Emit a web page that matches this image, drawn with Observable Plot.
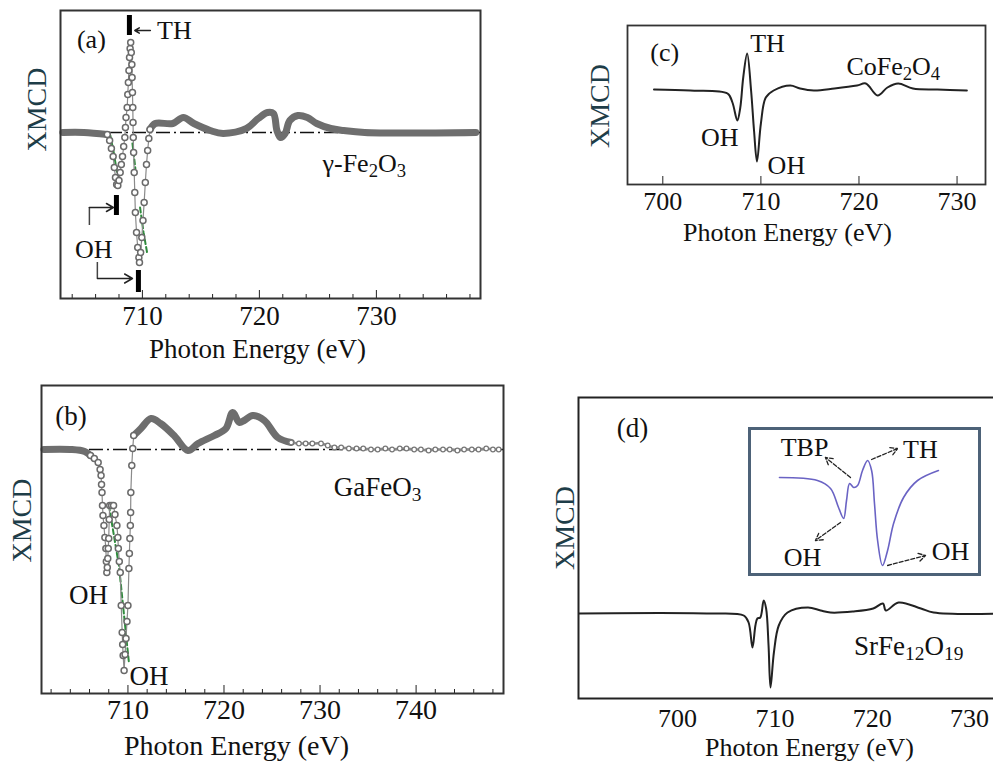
<!DOCTYPE html>
<html><head><meta charset="utf-8">
<script src="https://cdn.jsdelivr.net/npm/d3@7"></script>
<script src="https://cdn.jsdelivr.net/npm/@observablehq/plot@0.6"></script>
<style>
body{margin:0;background:#fff;}
#fig{position:relative;width:993px;height:763px;overflow:hidden;background:#fff;}
#fig svg{position:absolute;}
</style></head><body><div id="fig"></div>
<script>
// ---------- Panel (a): gamma-Fe2O3 ----------
const aEnergy = [703.2, 705.0, 707.0, 707.2, 707.35, 707.5, 707.6, 707.7, 707.8, 707.9,
  708.0, 708.1, 708.2, 708.3, 708.4, 708.5, 708.55, 708.6, 708.7, 708.75,
  708.8, 708.85, 708.9, 708.95, 709.0, 709.05, 709.1, 709.12, 709.15, 709.18,
  709.2, 709.22, 709.25, 709.3, 709.35, 709.4, 709.5, 709.6, 709.7, 709.75,
  709.85, 709.95, 710.05, 710.15, 710.25, 710.35, 710.45, 710.55, 710.65, 711.1,
  712.6, 713.5, 714.4, 715.8, 716.9, 718.9, 719.9, 720.7, 721.2, 721.5,
  721.8, 722.2, 722.6, 723.3, 724.1, 724.9, 726.1, 727.2, 729.0, 738.5];
const aXmcd = [0, 0, -2, -8, -16, -24, -35, -45, -52, -53,
  -48, -40, -32, -24, -14, -5, 5, 15, 25, 38,
  50, 62, 75, 84, 90, 80, 68, 55, 40, 25,
  10, -5, -20, -40, -60, -80, -100, -115, -125, -130,
  -120, -105, -88, -70, -50, -32, -18, -6, 3, 9,
  9, 15, 9, 2, -1, 4, 14, 20, 19, 2,
  -5, -1, 12, 17, 15, 9, 4, 2, 0, 0];
const aSteepRange = [707.0, 710.65];
const aFitEnergy = [704.0, 706.5, 707.26, 707.55, 707.8, 708.05, 709.15, 709.4, 709.8, 710.1, 710.4, 733.0, 738.5];
const aFitXmcd = [0, 0, -3, -20, -38, -50, -11, -36, -75, -100, -120, 0, 0];
const aFitSeg = [1, 1, 2, 2, 2, 2, 3, 3, 4, 4, 4, 5, 5];
const aXDomain = [703.0, 738.9];
const aYDomain = [-166, 122];
const aMajorTicks = [710, 720, 730];
const aMinorTicks = [704, 706, 708, 712, 714, 716, 718, 722, 724, 726, 728, 732, 734, 736, 738];
const aLabelText = ["(a)", "TH", "γ-Fe₂O₃", "OH"];
const aLabelE = [705.64, 712.74, 728.97, 705.85];
const aLabelV = [93, 102, -31, -117];
const aBarE = [708.89, 707.78, 709.66];
const aBarTop = [117, -63, -138];
const aBarBottom = [97, -83, -160];
const aArrowE1 = [710.68, 705.47, 706.15];
const aArrowE2 = [709.35, 707.52, 709.15];
const aArrowV = [102, -75, -146];
const aElbowE = [705.47, 706.15];
const aElbowV1 = [-93, -130];
const aElbowV2 = [-75, -146];

// ---------- Panel (b): GaFeO3 ----------
const bEnergy = [701.25, 704.0, 705.5, 706.1, 706.5, 706.9, 707.1, 707.2, 707.25, 707.3,
  707.35, 707.4, 707.5, 707.6, 707.7, 707.75, 707.8, 707.85, 707.9, 707.95,
  708.0, 708.05, 708.1, 708.3, 708.5, 708.65, 708.85, 708.95, 709.0, 709.1,
  709.2, 709.3, 709.4, 709.45, 709.5, 709.6, 709.7, 709.8, 709.9, 710.0,
  710.1, 710.15, 710.2, 710.25, 710.28, 710.3, 710.4, 710.5, 710.6, 711.35,
  712.4, 713.4, 714.8, 716.25, 717.3, 719.0, 720.2, 720.9, 721.6, 722.1,
  723.0, 724.2, 725.6, 727.0, 727.8, 728.5, 729.2, 730.1, 730.8, 731.5,
  732.2, 733.0, 733.8, 734.5, 735.3, 736.0, 736.8, 737.5, 738.3, 739.0,
  739.8, 740.5, 741.3, 742.0, 742.8, 743.5, 744.3, 745.0, 745.8, 746.5,
  747.3, 748.0, 748.6];
const bXmcd = [0, 0, -2, -6, -9, -13, -20, -26, -35, -43,
  -56, -66, -76, -88, -99, -112, -123, -118, -109, -99,
  -89, -70, -56, -56, -56, -65, -76, -88, -99, -112,
  -123, -156, -183, -195, -206, -221, -205, -189, -172, -156,
  -119, -104, -89, -76, -63, -43, -16, 1, 14, 21,
  31, 26, 14, -1, 6, 14, 21, 37, 27, 29,
  34, 29, 12, 7, 6, 6, 6, 6, 4, 2,
  2, 1, 1, 1, 0, 0, 1, 0, 1, 1,
  0, 0, -1, 0, 0, 0, -1, 0, 0, 0,
  1, 0, 0];
const bSteepRange = [706.1, 710.6];
const bBandEnd = 727.0;
const bFitEnergy = [701.5, 705.5, 706.6, 708.02, 709.06, 710.1];
const bFitXmcd = [0, -2, -10, -56, -116, -213];
const bFitSeg = [1, 1, 1, 2, 2, 2];
const bXDomain = [701.0, 749.1];
const bYDomain = [-244, 64];
const bMajorTicks = [710, 720, 730, 740];
const bMinorTicks = [702, 704, 706, 708, 712, 714, 716, 718, 722, 724, 726, 728, 732, 734, 736, 738, 742, 744, 746, 748];
const bLabelText = ["(b)", "GaFeO₃", "OH", "OH"];
const bLabelE = [704.06, 736.0, 705.89, 712.19];
const bLabelV = [33, -38, -146, -227];

// ---------- Panel (c): CoFe2O4 ----------
const cEnergy = [699.1, 702.8, 706.6, 707.1, 707.6, 707.9, 708.2, 708.6, 709.0, 709.3,
  709.6, 710.0, 710.5, 711.3, 713.0, 714.0, 715.4, 717.5, 719.8, 720.7,
  721.9, 722.9, 724.0, 725.5, 728.0, 731.0];
const cXmcd = [0, -1, -4, -13, -31, -18, 12, 36, -1, -41,
  -72, -34, -8, -1, 4, 1, -1, 1, 4, 6,
  -6, 2, 6, 1, 0, -1];
const cXDomain = [696.4, 732.9];
const cYDomain = [-95, 64];
const cMajorTicks = [700, 710, 720, 730];
const cLabelText = ["(c)", "TH", "CoFe₂O₄", "OH", "OH"];
const cLabelE = [700.2, 710.68, 723.5, 705.8, 712.6];
const cLabelV = [37, 46, 23, -48, -76];

// ---------- Panel (d): SrFe12O19 ----------
const dEnergy = [689.9, 703.0, 706.8, 707.3, 707.7, 708.0, 708.2, 708.5, 708.85, 709.1,
  709.35, 709.55, 709.9, 710.4, 711.3, 713.4, 714.7, 715.7, 718.0, 720.1,
  721.1, 721.4, 722.7, 725.0, 726.3, 734.0];
const dXmcd = [0, 0, -2, -9, -34, -12, -5, -4, 13, 5,
  -32, -74, -39, -12, 1, 6, 3, 1, 2, 5,
  10, 3, 11, 5, 1, 0];
const dXDomain = [689.83, 734.2];
const dYDomain = [-85, 216];
const dMajorTicks = [700, 710, 720, 730];
const dLabelText = ["(d)", "SrFe₁₂O₁₉"];
const dLabelE = [695.37, 723.74];
const dLabelV = [185, -33];

// inset of (d)
const insetEnergy = [704.96, 706.67, 707.26, 707.62, 707.85, 707.98, 708.12, 708.30, 708.48, 708.70,
  708.93, 709.11, 709.24, 709.38, 709.60, 709.83, 710.10, 710.55, 711.18, 712.12];
const insetXmcd = [1, -2, -10, -29, -40, -22, -5, -9, -7, 8,
  18, 8, -25, -62, -87, -72, -45, -19, -2, 8];
const insetXDomain = [703.61, 713.97];
const insetYDomain = [-96, 50];
const insetLabelText = ["TBP", "TH", "OH", "OH"];
const insetLabelE = [706.09, 711.31, 706.0, 712.66];
const insetLabelV = [31, 29, -79, -73];
const insetArrowE1 = [708.16, 709.11, 707.71, 709.83];
const insetArrowV1 = [1, 19, -44, -87];
const insetArrowE2 = [707.03, 710.28, 706.58, 711.54];
const insetArrowV2 = [21, 30, -62, -77];

// ---------- helpers ----------
const serif = "'Liberation Serif', 'Times New Roman', serif";
const green = "#2f8a3c";
const labelColor = "#1e3d48";
const fig = document.getElementById("fig");
const subMap = {"₀": "0", "₁": "1", "₂": "2", "₃": "3", "₄": "4", "₅": "5", "₆": "6", "₇": "7", "₈": "8", "₉": "9"};
function fixSubs(svg) {
  d3.select(svg).selectAll("text").each(function () {
    const t = this.textContent;
    if (!/[₀-₉]/.test(t)) return;
    const parts = t.match(/[₀-₉]+|[^₀-₉]+/g);
    const sel = d3.select(this);
    sel.text(null);
    let prevSub = false;
    parts.forEach(p => {
      const isSub = /[₀-₉]/.test(p);
      const ts = sel.append("tspan").text(isSub ? [...p].map(c => subMap[c]).join("") : p);
      if (isSub) ts.attr("font-size", "72%").attr("dy", "0.25em");
      else if (prevSub) ts.attr("dy", "-0.18em");
      prevSub = isSub;
    });
  });
}
function place(svg, left, top) { fixSubs(svg); svg.style.left = left + "px"; svg.style.top = top + "px"; fig.appendChild(svg); }
function rows(E, V, extra) { return E.map((e, i) => ({e, v: V[i], s: extra ? extra[i] : 0})); }
function idx(n) { return d3.range(n); }
function tickTop(dom, frameH, px) { return dom[0] + (dom[1] - dom[0]) * px / frameH; }
const baseStyle = {fontFamily: serif, fontSize: "26px", color: "#222", background: "transparent", overflow: "visible"};
function labels(T, E, V, size) {
  return Plot.text(idx(T.length), {x: i => E[i], y: i => V[i], text: i => T[i], fontSize: size, fontFamily: serif, fill: "#111"});
}
function title(dx, dy, size) {
  return Plot.text(["Photon Energy (eV)"], {frameAnchor: "bottom", textAnchor: "middle", lineAnchor: "middle", dx, dy, fontSize: size, fontFamily: serif, fill: "#111"});
}
function ylabel(dx, dy) {
  return Plot.text(["XMCD"], {frameAnchor: "left", textAnchor: "middle", lineAnchor: "middle", rotate: -90, dx, dy, fontSize: 28, fontFamily: serif, fill: labelColor});
}
function xaxis(ticks, pad, size) {
  return Plot.axisX({ticks, tickSize: 0, tickPadding: pad, label: null, tickFormat: d => String(d), fontSize: size, fontFamily: serif, fill: "#111"});
}

// ---------- Panel (a) ----------
{
  const all = rows(aEnergy, aXmcd);
  const steep = all.filter(d => d.e >= aSteepRange[0] && d.e <= aSteepRange[1]);
  const band = all.filter(d => d.e <= aSteepRange[0] || d.e >= aSteepRange[1]).map(d => ({...d, s: d.e <= aSteepRange[0] ? "L" : "R"}));
  const fit = rows(aFitEnergy, aFitXmcd, aFitSeg);
  const fh = 288;
  const svg = Plot.plot({
    width: 500, height: 380, marginLeft: 60, marginRight: 20, marginTop: 10, marginBottom: 82,
    x: {domain: aXDomain}, y: {domain: aYDomain, axis: null},
    style: baseStyle,
    marks: [
      Plot.ruleY([0], {stroke: "#111", strokeWidth: 1.5, strokeDasharray: "14,4,2,4"}),
      Plot.line(fit, {x: "e", y: "v", z: "s", stroke: green, strokeWidth: 2, strokeDasharray: "5,3"}),
      Plot.line(band, {x: "e", y: "v", z: "s", stroke: "#6e6e6e", strokeWidth: 7, strokeLinecap: "round", strokeLinejoin: "round", curve: "catmull-rom"}),
      Plot.line(steep, {x: "e", y: "v", stroke: "#8a8a8a", strokeWidth: 1.2}),
      Plot.dot(steep, {x: "e", y: "v", r: 3, stroke: "#6a6a6a", strokeWidth: 1.5, fill: "#fff"}),
      Plot.ruleX(aMinorTicks, {y1: aYDomain[0], y2: tickTop(aYDomain, fh, 4), stroke: "#222"}),
      Plot.ruleX(aMajorTicks, {y1: aYDomain[0], y2: tickTop(aYDomain, fh, 8), stroke: "#222"}),
      xaxis(aMajorTicks, 7, 27),
      Plot.frame({stroke: "#333", strokeWidth: 2}),
      Plot.ruleX(idx(aBarE.length), {x: i => aBarE[i], y1: i => aBarBottom[i], y2: i => aBarTop[i], stroke: "#000", strokeWidth: 5}),
      Plot.ruleX(idx(aElbowE.length), {x: i => aElbowE[i], y1: i => aElbowV1[i], y2: i => aElbowV2[i], stroke: "#444", strokeWidth: 1.5}),
      Plot.arrow(idx(aArrowE1.length), {x1: i => aArrowE1[i], x2: i => aArrowE2[i], y1: i => aArrowV[i], y2: i => aArrowV[i], stroke: "#222", strokeWidth: 1.5, headLength: 9}),
      labels(aLabelText, aLabelE, aLabelV, 26),
      title(-13, 51, 27),
      ylabel(-23, -45)
    ]
  });
  place(svg, 0, 0);
}

// ---------- Panel (b) ----------
{
  const all = rows(bEnergy, bXmcd);
  const steep = all.filter(d => d.e >= bSteepRange[0] && d.e <= bSteepRange[1]);
  const band = all.filter(d => d.e <= bSteepRange[0] || (d.e >= bSteepRange[1] && d.e <= bBandEnd)).map(d => ({...d, s: d.e <= bSteepRange[0] ? "L" : "R"}));
  const tail = all.filter(d => d.e >= bBandEnd);
  const fit = rows(bFitEnergy, bFitXmcd, bFitSeg);
  const fh = 308;
  const svg = Plot.plot({
    width: 520, height: 388, marginLeft: 41, marginRight: 17, marginTop: 10, marginBottom: 70,
    x: {domain: bXDomain}, y: {domain: bYDomain, axis: null},
    style: baseStyle,
    marks: [
      Plot.ruleY([0], {stroke: "#111", strokeWidth: 1.5, strokeDasharray: "14,4,2,4"}),
      Plot.line(fit, {x: "e", y: "v", z: "s", stroke: green, strokeWidth: 2, strokeDasharray: "5,3"}),
      Plot.line(band, {x: "e", y: "v", z: "s", stroke: "#6e6e6e", strokeWidth: 7, strokeLinecap: "round", strokeLinejoin: "round", curve: "catmull-rom"}),
      Plot.line(tail, {x: "e", y: "v", stroke: "#8a8a8a", strokeWidth: 2.5, curve: "catmull-rom"}),
      Plot.dot(tail, {x: "e", y: "v", r: 2.3, stroke: "#777", strokeWidth: 1.2, fill: "#fff"}),
      Plot.line(steep, {x: "e", y: "v", stroke: "#8a8a8a", strokeWidth: 1.2}),
      Plot.dot(steep, {x: "e", y: "v", r: 3, stroke: "#6a6a6a", strokeWidth: 1.5, fill: "#fff"}),
      Plot.ruleX(bMinorTicks, {y1: bYDomain[0], y2: tickTop(bYDomain, fh, 4), stroke: "#222"}),
      Plot.ruleX(bMajorTicks, {y1: bYDomain[0], y2: tickTop(bYDomain, fh, 8), stroke: "#222"}),
      xaxis(bMajorTicks, 6, 28),
      Plot.frame({stroke: "#333", strokeWidth: 2}),
      labels(bLabelText, bLabelE, bLabelV, 27),
      title(-36, 53, 28),
      ylabel(-19, -19)
    ]
  });
  place(svg, 0, 375);
}

// ---------- Panel (c) ----------
{
  const all = rows(cEnergy, cXmcd);
  const fh = 159;
  const svg = Plot.plot({
    width: 433, height: 250, marginLeft: 67, marginRight: 8, marginTop: 25, marginBottom: 66,
    x: {domain: cXDomain}, y: {domain: cYDomain, axis: null},
    style: baseStyle,
    marks: [
      Plot.line(all, {x: "e", y: "v", stroke: "#222", strokeWidth: 2, curve: "catmull-rom"}),
      Plot.ruleX(cMajorTicks, {y1: cYDomain[0], y2: tickTop(cYDomain, fh, 8), stroke: "#222"}),
      xaxis(cMajorTicks, 7, 26),
      Plot.frame({stroke: "#333", strokeWidth: 1.8}),
      labels(cLabelText, cLabelE, cLabelV, 26),
      title(-19, 48, 26),
      ylabel(-27, 1)
    ]
  });
  place(svg, 560, 0);
}

// ---------- Panel (d) ----------
{
  const all = rows(dEnergy, dXmcd);
  const svg = Plot.plot({
    width: 470, height: 378, marginLeft: 38, marginRight: 0, marginTop: 12, marginBottom: 65,
    x: {domain: dXDomain}, y: {domain: dYDomain, axis: null},
    style: baseStyle,
    marks: [
      Plot.line(all, {x: "e", y: "v", stroke: "#222", strokeWidth: 2, curve: "catmull-rom"}),
      xaxis(dMajorTicks, 10, 26),
      Plot.frame({stroke: "#222", strokeWidth: 2}),
      labels(dLabelText, dLabelE, dLabelV, 27),
      title(15, 49, 26),
      ylabel(-13, -20)
    ]
  });
  place(svg, 540, 385);
}

// ---------- Inset of (d) ----------
{
  const all = rows(insetEnergy, insetXmcd);
  const svg = Plot.plot({
    width: 250, height: 166, marginLeft: 10, marginRight: 10, marginTop: 10, marginBottom: 10,
    x: {domain: insetXDomain, axis: null}, y: {domain: insetYDomain, axis: null},
    style: baseStyle,
    marks: [
      Plot.frame({fill: "#fff", stroke: "#4d6278", strokeWidth: 3}),
      Plot.line(all, {x: "e", y: "v", stroke: "#6a63c4", strokeWidth: 1.6, curve: "catmull-rom"}),
      Plot.arrow(idx(insetArrowE1.length), {x1: i => insetArrowE1[i], y1: i => insetArrowV1[i], x2: i => insetArrowE2[i], y2: i => insetArrowV2[i], stroke: "#222", strokeWidth: 1.3, strokeDasharray: "4,2", headLength: 9}),
      labels(insetLabelText, insetLabelE, insetLabelV, 26)
    ]
  });
  place(svg, 739, 418);
}
</script></body></html>
